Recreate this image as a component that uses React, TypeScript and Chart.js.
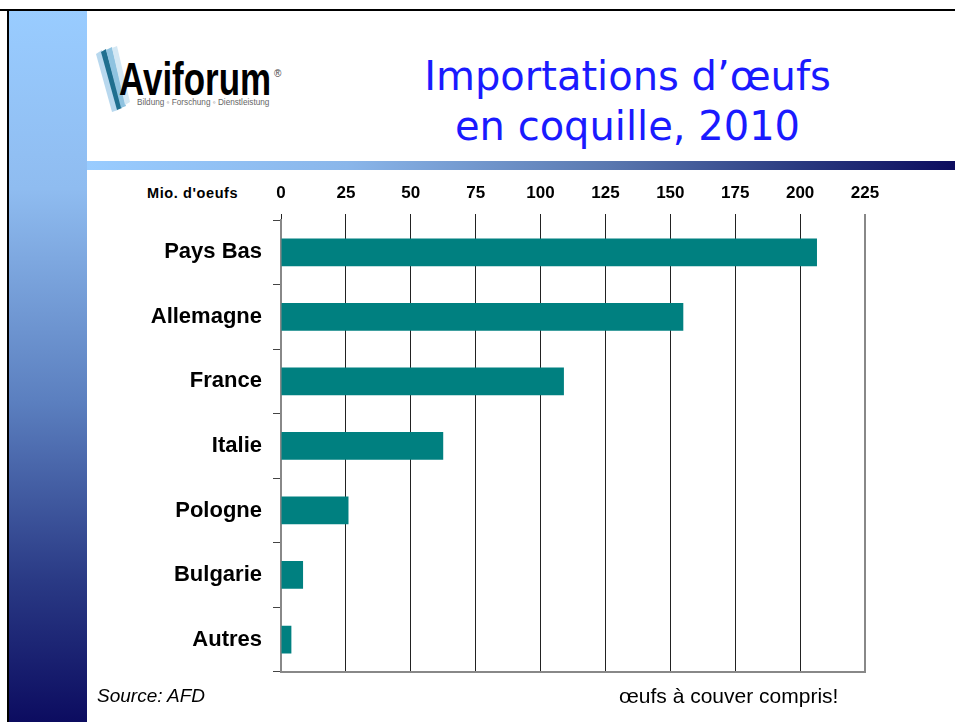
import React, { useEffect, useRef } from 'react';
import { Chart, registerables } from 'chart.js';

Chart.register(...registerables);

const categories = ['Pays Bas', 'Allemagne', 'France', 'Italie', 'Pologne', 'Bulgarie', 'Autres'];
const importValues = [206.5, 155, 109, 62.5, 26, 8.5, 4];
const axisMin = 0;
const axisMax = 225;
const axisStep = 25;
const unitLabel = "Mio. d'oeufs";
const titleLines = ['Importations d\u2019\u0153ufs', 'en coquille, 2010'];
const sourceText = 'Source: AFD';
const noteText = '\u0153ufs \u00e0 couver compris!';

const FONT = '"Liberation Sans", Arial, sans-serif';

function Logo() {
  return (
    <div style={{ position: 'absolute', left: 92, top: 44, width: 200, height: 75 }}>
      <svg width="40" height="72" style={{ position: 'absolute', left: 0, top: 0 }}>
        <polygon points="4,10 10,6 26,66 20,68" fill="#b8d8ee" />
        <polygon points="9,8 14,5 30,64 25,66" fill="#1f6f8f" />
        <polygon points="14,6 20,3 34,62 29,64" fill="#8fc3e0" />
        <polygon points="20,4 25,2 38,58 33,61" fill="#d4e8f4" />
      </svg>
      <div
        style={{
          position: 'absolute',
          left: 27,
          top: 12,
          fontFamily: FONT,
          fontWeight: 'bold',
          fontSize: 46,
          lineHeight: '46px',
          color: '#000',
          transform: 'scaleX(0.76)',
          transformOrigin: 'left top',
          whiteSpace: 'nowrap',
        }}
      >
        Aviforum
      </div>
      <div
        style={{
          position: 'absolute',
          left: 182,
          top: 24,
          fontFamily: FONT,
          fontSize: 10,
          color: '#444',
        }}
      >
        ®
      </div>
      <div
        style={{
          position: 'absolute',
          left: 45,
          top: 54,
          fontFamily: FONT,
          fontSize: 8.2,
          color: '#666',
          whiteSpace: 'nowrap',
        }}
      >
        Bildung ◦ Forschung ◦ Dienstleistung
      </div>
    </div>
  );
}

export default function App() {
  const canvasRef = useRef<HTMLCanvasElement>(null);

  useEffect(() => {
    const canvas = canvasRef.current;
    if (!canvas) return;
    const chart = new Chart(canvas, {
      type: 'bar',
      data: {
        labels: categories,
        datasets: [
          {
            data: importValues,
            backgroundColor: '#008080',
            borderWidth: 0,
            barPercentage: 0.43,
            categoryPercentage: 1,
            xAxisID: 'x',
            yAxisID: 'y',
          },
        ],
      },
      options: {
        indexAxis: 'y',
        animation: false,
        responsive: false,
        maintainAspectRatio: false,
        layout: { padding: { left: 0, right: 25, top: 0, bottom: 5 } },
        plugins: { legend: { display: false }, tooltip: { enabled: false } },
        scales: {
          x: {
            type: 'linear',
            position: 'top',
            min: axisMin,
            max: axisMax,
            ticks: {
              stepSize: axisStep,
              color: '#000',
              font: { family: FONT, size: 17, weight: 'bold' },
              padding: 10,
              maxRotation: 0,
            },
            grid: {
              drawTicks: true,
              tickLength: 6,
              color: (ctx: any) => (ctx.tick && ctx.tick.value === axisMax ? '#888' : '#222'),
              lineWidth: (ctx: any) => (ctx.tick && ctx.tick.value === axisMax ? 2 : 1),
            },
            border: { display: false },
            afterFit: (s: any) => {
              s.height = 42;
            },
          },
          x2: {
            type: 'linear',
            position: 'bottom',
            min: axisMin,
            max: axisMax,
            ticks: { display: false },
            grid: { display: false, drawTicks: false },
            border: { display: true, color: '#888', width: 2 },
            afterFit: (s: any) => {
              s.height = 0;
            },
          },
          y: {
            position: 'left',
            ticks: {
              color: '#000',
              font: { family: FONT, size: 22, weight: 'bold' },
              padding: 11,
            },
            grid: {
              drawOnChartArea: false,
              drawTicks: true,
              tickLength: 8,
              color: '#444',
              offset: true,
            },
            border: { display: true, color: '#888', width: 2 },
            afterFit: (s: any) => {
              s.width = 191;
            },
          },
        },
      },
    } as any);
    return () => chart.destroy();
  }, []);

  return (
    <div
      style={{
        position: 'absolute',
        left: 0,
        top: 0,
        width: 955,
        height: 722,
        background: '#fff',
        overflow: 'hidden',
      }}
    >
      {/* black frame */}
      <div style={{ position: 'absolute', left: 0, top: 9, width: 955, height: 2, background: '#000' }} />
      <div style={{ position: 'absolute', left: 7, top: 9, width: 2, height: 713, background: '#000' }} />
      {/* left gradient band */}
      <div
        style={{
          position: 'absolute',
          left: 9,
          top: 11,
          width: 78,
          height: 711,
          background: 'linear-gradient(to bottom, #99ccff 0%, #8fbcf0 25%, #5b7fbf 55%, #2a3a85 80%, #0c0c60 100%)',
        }}
      />
      {/* horizontal gradient bar */}
      <div
        style={{
          position: 'absolute',
          left: 87,
          top: 161,
          width: 868,
          height: 9,
          background: 'linear-gradient(to right, #99ccff 0%, #8ab6ea 30%, #5a78b0 60%, #2a3a80 82%, #0c0c5e 100%)',
        }}
      />
      <Logo />
      {/* title */}
      <div
        style={{
          position: 'absolute',
          left: 400,
          top: 51,
          width: 455,
          textAlign: 'center',
          fontFamily: '"DejaVu Sans", Verdana, sans-serif',
          fontSize: 40,
          lineHeight: '50px',
          color: '#1a1aff',
          whiteSpace: 'nowrap',
        }}
      >
        <div>{titleLines[0]}</div>
        <div>{titleLines[1]}</div>
      </div>
      {/* unit label */}
      <div
        style={{
          position: 'absolute',
          left: 147,
          top: 184,
          fontFamily: FONT,
          fontWeight: 'bold',
          fontSize: 14.5,
          letterSpacing: 0.6,
          lineHeight: '18px',
          color: '#000',
          whiteSpace: 'nowrap',
        }}
      >
        {unitLabel}
      </div>
      {/* chart */}
      <canvas
        ref={canvasRef}
        width={800}
        height={518}
        style={{ position: 'absolute', left: 90, top: 178, width: 800, height: 518 }}
      />
      {/* footer */}
      <div
        style={{
          position: 'absolute',
          left: 97,
          top: 684,
          fontFamily: FONT,
          fontStyle: 'italic',
          fontSize: 19,
          lineHeight: '24px',
          color: '#000',
          whiteSpace: 'nowrap',
        }}
      >
        {sourceText}
      </div>
      <div
        style={{
          position: 'absolute',
          left: 619,
          top: 683,
          fontFamily: FONT,
          fontSize: 21,
          lineHeight: '26px',
          color: '#000',
          whiteSpace: 'nowrap',
        }}
      >
        {noteText}
      </div>
    </div>
  );
}
